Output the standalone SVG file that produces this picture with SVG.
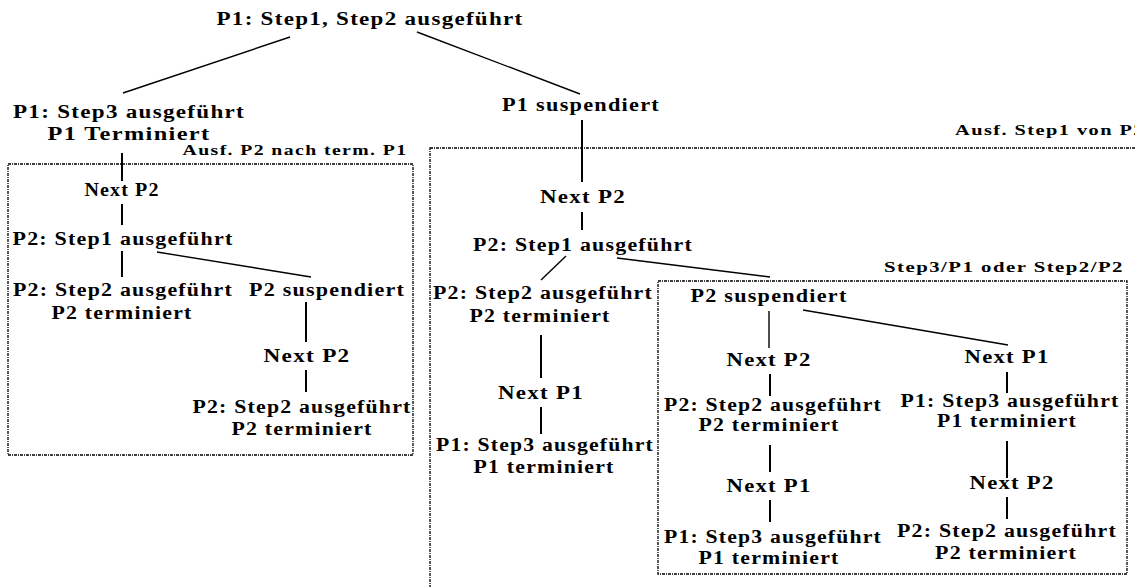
<svg xmlns="http://www.w3.org/2000/svg" width="1135" height="587" viewBox="0 0 1135 587">
<style>
text{font-family:"Liberation Serif","DejaVu Serif",serif;font-weight:bold;font-size:18px;letter-spacing:1px;fill:#000;text-anchor:middle}
.s{font-size:14px;letter-spacing:1px}
.c line{stroke:#000;stroke-width:1.4}
.v{stroke-width:2!important}
.box{fill:none;stroke:#000;stroke-width:1.3;stroke-dasharray:3 1 1 1}
</style>
<rect width="1135" height="587" fill="#fff"/>
<g id="boxes">
<rect class="box" x="8" y="164" width="405" height="291"/>
<rect class="box" x="430" y="148" width="720" height="460"/>
<rect class="box" x="658" y="281" width="469" height="293"/>
<text class="s" x="295" y="155" textLength="225" lengthAdjust="spacingAndGlyphs">Ausf. P2 nach term. P1</text>
<text class="s" x="955" y="135" style="text-anchor:start" textLength="190" lengthAdjust="spacingAndGlyphs">Ausf. Step1 von P2</text>
<text class="s" x="1004" y="272" textLength="240" lengthAdjust="spacingAndGlyphs">Step3/P1 oder Step2/P2</text>
</g>
<g class="c" id="connectors">
<line x1="290" y1="37" x2="123" y2="93"/>
<line x1="417" y1="32" x2="580" y2="94"/>
<line class="v" x1="122" y1="153" x2="122" y2="181"/>
<line class="v" x1="122" y1="204" x2="122" y2="225"/>
<line class="v" x1="122" y1="251" x2="122" y2="277"/>
<line x1="157" y1="252" x2="311" y2="277"/>
<line class="v" x1="306" y1="302" x2="306" y2="342"/>
<line class="v" x1="306" y1="370" x2="306" y2="392"/>
<line class="v" x1="582" y1="120" x2="582" y2="182"/>
<line class="v" x1="582" y1="212" x2="582" y2="230"/>
<line x1="566" y1="256" x2="541" y2="280"/>
<line x1="617" y1="258" x2="770" y2="277"/>
<line class="v" x1="541" y1="335" x2="541" y2="378"/>
<line class="v" x1="541" y1="407" x2="541" y2="434"/>
<line x1="769" y1="311" x2="769" y2="348"/>
<line x1="803" y1="310" x2="1008" y2="345"/>
<line class="v" x1="770" y1="374" x2="770" y2="396"/>
<line class="v" x1="770" y1="445" x2="770" y2="472"/>
<line class="v" x1="770" y1="500" x2="770" y2="522"/>
<line class="v" x1="1007" y1="372" x2="1007" y2="393"/>
<line class="v" x1="1007" y1="441" x2="1007" y2="478"/>
<line class="v" x1="1007" y1="497" x2="1007" y2="519"/>
</g>
<g id="n0"><text x="370" y="25" textLength="307" lengthAdjust="spacingAndGlyphs">P1: Step1, Step2 ausgeführt</text></g>
<g id="n1"><text x="129" y="118" textLength="232" lengthAdjust="spacingAndGlyphs">P1: Step3 ausgeführt</text><text x="129" y="140" textLength="163" lengthAdjust="spacingAndGlyphs">P1 Terminiert</text></g>
<g id="n2"><text x="581" y="111" textLength="158" lengthAdjust="spacingAndGlyphs">P1 suspendiert</text></g>
<g id="n3"><text x="122" y="196" textLength="75" lengthAdjust="spacingAndGlyphs">Next P2</text></g>
<g id="n4"><text x="123" y="245" textLength="221" lengthAdjust="spacingAndGlyphs">P2: Step1 ausgeführt</text></g>
<g id="n5"><text x="123" y="296" textLength="220" lengthAdjust="spacingAndGlyphs">P2: Step2 ausgeführt</text><text x="122" y="319" textLength="141" lengthAdjust="spacingAndGlyphs">P2 terminiert</text></g>
<g id="n6"><text x="327" y="296" textLength="156" lengthAdjust="spacingAndGlyphs">P2 suspendiert</text></g>
<g id="n7"><text x="307" y="362" textLength="87" lengthAdjust="spacingAndGlyphs">Next P2</text></g>
<g id="n8"><text x="302" y="413" textLength="219" lengthAdjust="spacingAndGlyphs">P2: Step2 ausgeführt</text><text x="302" y="435" textLength="141" lengthAdjust="spacingAndGlyphs">P2 terminiert</text></g>
<g id="n9"><text x="583" y="203" textLength="86" lengthAdjust="spacingAndGlyphs">Next P2</text></g>
<g id="n10"><text x="583" y="251" textLength="220" lengthAdjust="spacingAndGlyphs">P2: Step1 ausgeführt</text></g>
<g id="n11"><text x="543" y="299" textLength="220" lengthAdjust="spacingAndGlyphs">P2: Step2 ausgeführt</text><text x="540" y="322" textLength="141" lengthAdjust="spacingAndGlyphs">P2 terminiert</text></g>
<g id="n12"><text x="541" y="399" textLength="86" lengthAdjust="spacingAndGlyphs">Next P1</text></g>
<g id="n13"><text x="545" y="451" textLength="218" lengthAdjust="spacingAndGlyphs">P1: Step3 ausgeführt</text><text x="544" y="473" textLength="141" lengthAdjust="spacingAndGlyphs">P1 terminiert</text></g>
<g id="n14"><text x="769" y="302" textLength="157" lengthAdjust="spacingAndGlyphs">P2 suspendiert</text></g>
<g id="n15"><text x="769" y="366" textLength="85" lengthAdjust="spacingAndGlyphs">Next P2</text></g>
<g id="n16"><text x="773" y="411" textLength="218" lengthAdjust="spacingAndGlyphs">P2: Step2 ausgeführt</text><text x="769" y="431" textLength="141" lengthAdjust="spacingAndGlyphs">P2 terminiert</text></g>
<g id="n17"><text x="769" y="492" textLength="85" lengthAdjust="spacingAndGlyphs">Next P1</text></g>
<g id="n18"><text x="773" y="543" textLength="218" lengthAdjust="spacingAndGlyphs">P1: Step3 ausgeführt</text><text x="769" y="564" textLength="141" lengthAdjust="spacingAndGlyphs">P1 terminiert</text></g>
<g id="n19"><text x="1007" y="363" textLength="85" lengthAdjust="spacingAndGlyphs">Next P1</text></g>
<g id="n20"><text x="1010" y="407" textLength="219" lengthAdjust="spacingAndGlyphs">P1: Step3 ausgeführt</text><text x="1007" y="427" textLength="140" lengthAdjust="spacingAndGlyphs">P1 terminiert</text></g>
<g id="n21"><text x="1012" y="489" textLength="85" lengthAdjust="spacingAndGlyphs">Next P2</text></g>
<g id="n22"><text x="1007" y="537" textLength="220" lengthAdjust="spacingAndGlyphs">P2: Step2 ausgeführt</text><text x="1006" y="559" textLength="142" lengthAdjust="spacingAndGlyphs">P2 terminiert</text></g>
</svg>
